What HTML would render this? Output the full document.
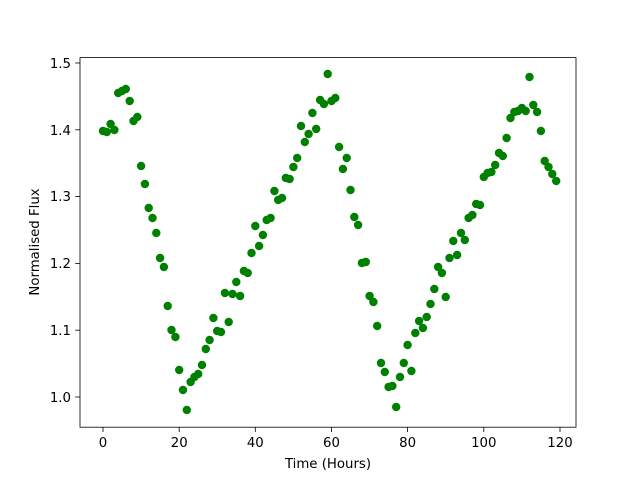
<!DOCTYPE html>
<html><head><meta charset="utf-8"><style>body{margin:0;background:#fff}svg{display:block}text{font-family:"DejaVu Sans","Liberation Sans",sans-serif;font-size:13.3px;fill:#000}</style></head><body>
<svg width="640" height="480" xmlns="http://www.w3.org/2000/svg">
<rect width="640" height="480" fill="#fff"/>
<path fill="none" stroke="#008000" stroke-width="8.4" stroke-linecap="round" d="M103 131h0M106.8 132h0M110.6 124h0M114.4 130h0M118.2 93h0M122 91h0M125.8 89h0M129.7 101h0M133.5 121h0M137.3 117h0M141.1 166h0M144.9 184h0M148.7 208h0M152.5 218h0M156.3 233h0M160.1 258h0M163.9 267h0M167.7 306h0M171.5 330h0M175.4 337h0M179.2 370h0M183 390h0M186.8 410h0M190.6 382h0M194.4 377h0M198.2 374h0M202 365h0M205.8 349h0M209.6 340h0M213.4 318h0M217.2 331h0M221 332h0M224.9 293h0M228.7 322h0M232.5 294h0M236.3 282h0M240.1 296h0M243.9 271h0M247.7 273h0M251.5 253h0M255.3 226h0M259.1 246h0M262.9 235h0M266.7 220h0M270.6 218h0M274.4 191h0M278.2 200h0M282 198h0M285.8 178h0M289.6 179h0M293.4 167h0M297.2 158h0M301 126h0M304.8 142h0M308.6 134h0M312.4 113h0M316.2 129h0M320.1 100h0M323.9 104h0M327.7 74h0M331.5 101h0M335.3 98h0M339.1 147h0M342.9 169h0M346.7 158h0M350.5 190h0M354.3 217h0M358.1 225h0M361.9 263h0M365.8 262h0M369.6 296h0M373.4 302h0M377.2 326h0M381 363h0M384.8 372h0M388.6 387h0M392.4 386h0M396.2 407h0M400 377h0M403.8 363h0M407.6 345h0M411.4 371h0M415.3 333h0M419.1 321h0M422.9 328h0M426.7 317h0M430.5 304h0M434.3 289h0M438.1 267h0M441.9 273h0M445.7 297h0M449.5 258h0M453.3 241h0M457.1 255h0M461 233h0M464.8 240h0M468.6 218h0M472.4 215h0M476.2 204h0M480 205h0M483.8 177h0M487.6 173h0M491.4 172h0M495.2 165h0M499 153h0M502.8 156h0M506.6 138h0M510.5 118h0M514.3 112h0M518.1 111h0M521.9 108h0M525.7 111h0M529.5 77h0M533.3 105h0M537.1 112h0M540.9 131h0M544.7 161h0M548.5 167h0M552.3 174h0M556.2 181h0"/>
<rect x="80" y="57.6" width="496" height="369.6" fill="none" stroke="#000" stroke-width="0.8"/>
<g stroke="#000" stroke-width="0.8">
<line x1="103" y1="427.2" x2="103" y2="432"/><line x1="179.2" y1="427.2" x2="179.2" y2="432"/><line x1="255.3" y1="427.2" x2="255.3" y2="432"/><line x1="331.5" y1="427.2" x2="331.5" y2="432"/><line x1="407.6" y1="427.2" x2="407.6" y2="432"/><line x1="483.8" y1="427.2" x2="483.8" y2="432"/><line x1="560" y1="427.2" x2="560" y2="432"/>
<line x1="75.2" y1="397" x2="80" y2="397"/><line x1="75.2" y1="330.2" x2="80" y2="330.2"/><line x1="75.2" y1="263.4" x2="80" y2="263.4"/><line x1="75.2" y1="196.6" x2="80" y2="196.6"/><line x1="75.2" y1="129.8" x2="80" y2="129.8"/><line x1="75.2" y1="63" x2="80" y2="63"/>
</g>
<g text-anchor="middle">
<text x="103" y="447">0</text><text x="179.2" y="447">20</text><text x="255.3" y="447">40</text><text x="331.5" y="447">60</text><text x="407.6" y="447">80</text><text x="483.8" y="447">100</text><text x="560" y="447">120</text>
<text x="328" y="468">Time (Hours)</text>
<text transform="translate(39,242) rotate(-90)">Normalised Flux</text>
</g>
<g text-anchor="end">
<text x="71" y="402">1.0</text><text x="71" y="335">1.1</text><text x="71" y="268">1.2</text><text x="71" y="201">1.3</text><text x="71" y="135">1.4</text><text x="71" y="68">1.5</text>
</g>
</svg>
</body></html>
